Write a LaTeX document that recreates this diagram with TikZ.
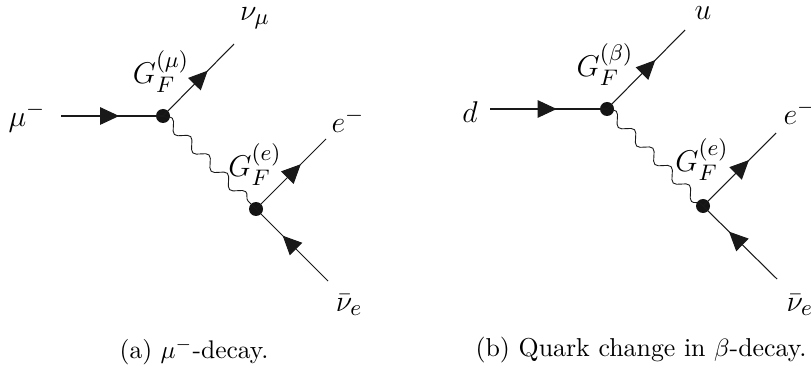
\documentclass[tikz,border=0pt]{standalone}
\usetikzlibrary{decorations.markings,decorations.pathmorphing,arrows.meta}
\tikzset{
  x=0.4pt,y=-0.4pt,
  fermion/.style={line width=0.42pt,color=black!90,postaction={decorate},
    decoration={markings,mark=at position #1 with {\arrow{Triangle[length=7.6pt,width=7pt]}}}},
  boson/.style={line width=0.36pt,color=black!90,decorate,
    decoration={snake,segment length=10.4pt,amplitude=2pt}},
  vertexdot/.style={circle,fill=black!92,inner sep=0pt,minimum size=5.6pt},
  lab/.style={inner sep=0pt,font=\fontsize{13}{15}\selectfont},
  captext/.style={inner sep=0pt,font=\fontsize{10.2}{12}\selectfont},
  captextb/.style={inner sep=0pt,font=\fontsize{10.35}{12}\selectfont}
}
\begin{document}
\begin{tikzpicture}
\useasboundingbox (0,0) rectangle (811,372);
\clip (0,0) rectangle (811,372);
% left diagram
\node[vertexdot] (a1) at (163,116) {};
\node[vertexdot] (a2) at (256,209) {};
\coordinate (as) at (61,116);
\coordinate (an) at (234,44);
\coordinate (ae) at (326,139);
\coordinate (ab) at (328,281);
\draw[fermion=0.57] (as) -- (a1.center);
\draw[fermion=0.63] (a1.center) -- (an);
\draw[fermion=0.64] (a2.center) -- (ae);
\draw[fermion=0.63] (ab) -- (a2.center);
\draw[boson] (a1.center) -- (a2.center);
\node[lab] (amu) at (27,117) {$\mu^-$};
\node[lab] (anu) at (255,18) {$\nu_\mu$};
\node[lab] (ag1) at (161,72) {$G_F^{(\mu)}$};
\node[lab] (aem) at (348,120) {$e^-$};
\node[lab] (ag2) at (255,165) {$G_F^{(e)}$};
\node[lab] (anb) at (349,305) {$\bar\nu_e$};
\node[captext] (acap) at (194,352) {(a) $\mu^-$-decay.};
% right diagram
\node[vertexdot] (b1) at (607,109) {};
\node[vertexdot] (b2) at (703,206) {};
\coordinate (bs) at (490,109);
\coordinate (bu) at (685,30);
\coordinate (be) at (776,133);
\coordinate (bb) at (777,279);
\draw[fermion=0.57] (bs) -- (b1.center);
\draw[fermion=0.62] (b1.center) -- (bu);
\draw[fermion=0.63] (b2.center) -- (be);
\draw[fermion=0.65] (bb) -- (b2.center);
\draw[boson] (b1.center) -- (b2.center);
\node[lab] (bd) at (470,112) {$d$};
\node[lab] (bup) at (703,13) {$u$};
\node[lab] (bg1) at (605,65) {$G_F^{(\beta)}$};
\node[lab,anchor=west] (bem) at (783,112) {$e^-$};
\node[lab] (bg2) at (702,160) {$G_F^{(e)}$};
\node[lab,anchor=west] (bnb) at (786,305) {$\bar\nu_e$};
\node[captextb,anchor=west] (bcap) at (475,350) {(b) Quark change in $\beta$-decay.};
\end{tikzpicture}
\end{document}
